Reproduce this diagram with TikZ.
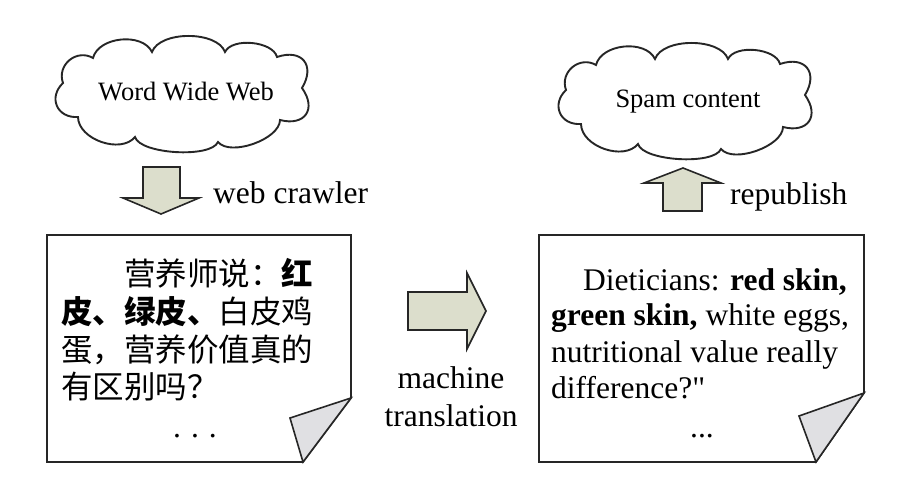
\documentclass[tikz,border=0pt]{standalone}
\usepackage{fontspec}
\setmainfont{Liberation Serif}
\newfontfamily\cjk{Noto Sans CJK SC}
\definecolor{arrowfill}{RGB}{220,222,204}
\definecolor{foldfill}{RGB}{224,224,227}
\tikzset{
  outline/.style={draw=black!85, line width=1.6pt, line join=miter},
  blockarrow/.style={outline, fill=arrowfill},
  cloudline/.style={draw=black!85, line width=1.9pt, fill=white, line join=miter},
  cloudtext/.style={inner sep=0pt, anchor=base, font=\fontsize{26.5}{30}\selectfont},
  lbl/.style={inner sep=0pt, font=\fontsize{31.5}{36}\selectfont},
  zh/.style={inner sep=0pt, anchor=base west, font=\cjk\fontsize{31.5}{38}\selectfont},
  en/.style={inner sep=0pt, anchor=base west, font=\fontsize{31.5}{36}\selectfont},
}
\newcommand\mycloudpath{%
  (93,425) to[bend left=70, looseness=0.95] (152,431)
  to[bend left=70, looseness=0.8] (225,431)
  to[bend left=70, looseness=0.8] (277,426)
  to[bend left=70, looseness=1.7] (302,395)
  to[bend left=70, looseness=1.7] (280,363)
  to[bend left=70, looseness=0.75] (218,341)
  to[bend left=70, looseness=0.55] (135,346)
  to[bend left=70, looseness=0.95] (78,366)
  to[bend left=70, looseness=1.45] (63,400)
  to[bend left=70, looseness=1.25] (93,425) -- cycle}
\begin{document}
\begin{tikzpicture}[x=1pt,y=1pt]
\useasboundingbox (0,0) rectangle (910,483);
% clouds
\draw[cloudline] \mycloudpath;
\node[cloudtext] (wwwt) at (186,382) {Word Wide Web};
\begin{scope}[shift={(503,-7)}]
\draw[cloudline] \mycloudpath;
\end{scope}
\node[cloudtext] (spamt) at (688,375) {Spam content};
% source document
\coordinate (s1) at (47,248);
\coordinate (s2) at (351,248);
\coordinate (s3) at (351,85);
\coordinate (s4) at (303,21);
\coordinate (s5) at (47,21);
\coordinate (sf) at (290,65);
\draw[outline, fill=white] (s1) -- (s2) -- (s3) -- (s4) -- (s5) -- cycle;
\draw[outline, fill=foldfill] (s3) -- (sf) -- (s4) -- cycle;
\node[zh] (z1) at (124,198) {营养师说：{\bfseries 红}};
\node[zh] (z2) at (61,160) {{\bfseries 皮、绿皮、}白皮鸡};
\node[zh] (z3) at (61,122) {蛋，营养价值真的};
\node[zh] (z4) at (61,85) {有区别吗？};
\node[lbl, anchor=base] (zd) at (195,46) {.\hspace{10pt}.\hspace{10pt}.};
% target document
\coordinate (t1) at (539,248);
\coordinate (t2) at (864,248);
\coordinate (t3) at (864,90);
\coordinate (t4) at (816,21);
\coordinate (t5) at (539,21);
\coordinate (tf) at (799,67);
\draw[outline, fill=white] (t1) -- (t2) -- (t3) -- (t4) -- (t5) -- cycle;
\draw[outline, fill=foldfill] (t3) -- (tf) -- (t4) -- cycle;
\node[en] (e1) at (583,193) {Dieticians: \textbf{red skin,}};
\node[en] (e2) at (551,158) {\textbf{green skin,} white eggs,};
\node[en] (e3) at (551,121) {nutritional value really};
\node[en] (e4) at (551,85) {difference?\textquotedbl};
\node[lbl, anchor=base] (ed) at (702,46) {...};
% down arrow (web crawler)
\draw[blockarrow] (143,316) -- (180,316) -- (180,285) -- (199,285) -- (161,269) -- (123,285) -- (143,285) -- cycle;
\node[lbl, anchor=base west] (crawl) at (213,280) {web crawler};
% up arrow (republish)
\draw[blockarrow] (663,272) -- (702,272) -- (702,300) -- (721,300) -- (683,315) -- (644,300) -- (663,300) -- cycle;
\node[lbl, anchor=base west] (repub) at (730,279) {republish};
% right arrow (machine translation)
\draw[blockarrow] (408,191) -- (467,191) -- (467,210) -- (486,172) -- (467,134) -- (467,153) -- (408,153) -- cycle;
\node[lbl, anchor=base] (mt1) at (451,95) {machine};
\node[lbl, anchor=base] (mt2) at (451,57) {translation};
\end{tikzpicture}
\end{document}
